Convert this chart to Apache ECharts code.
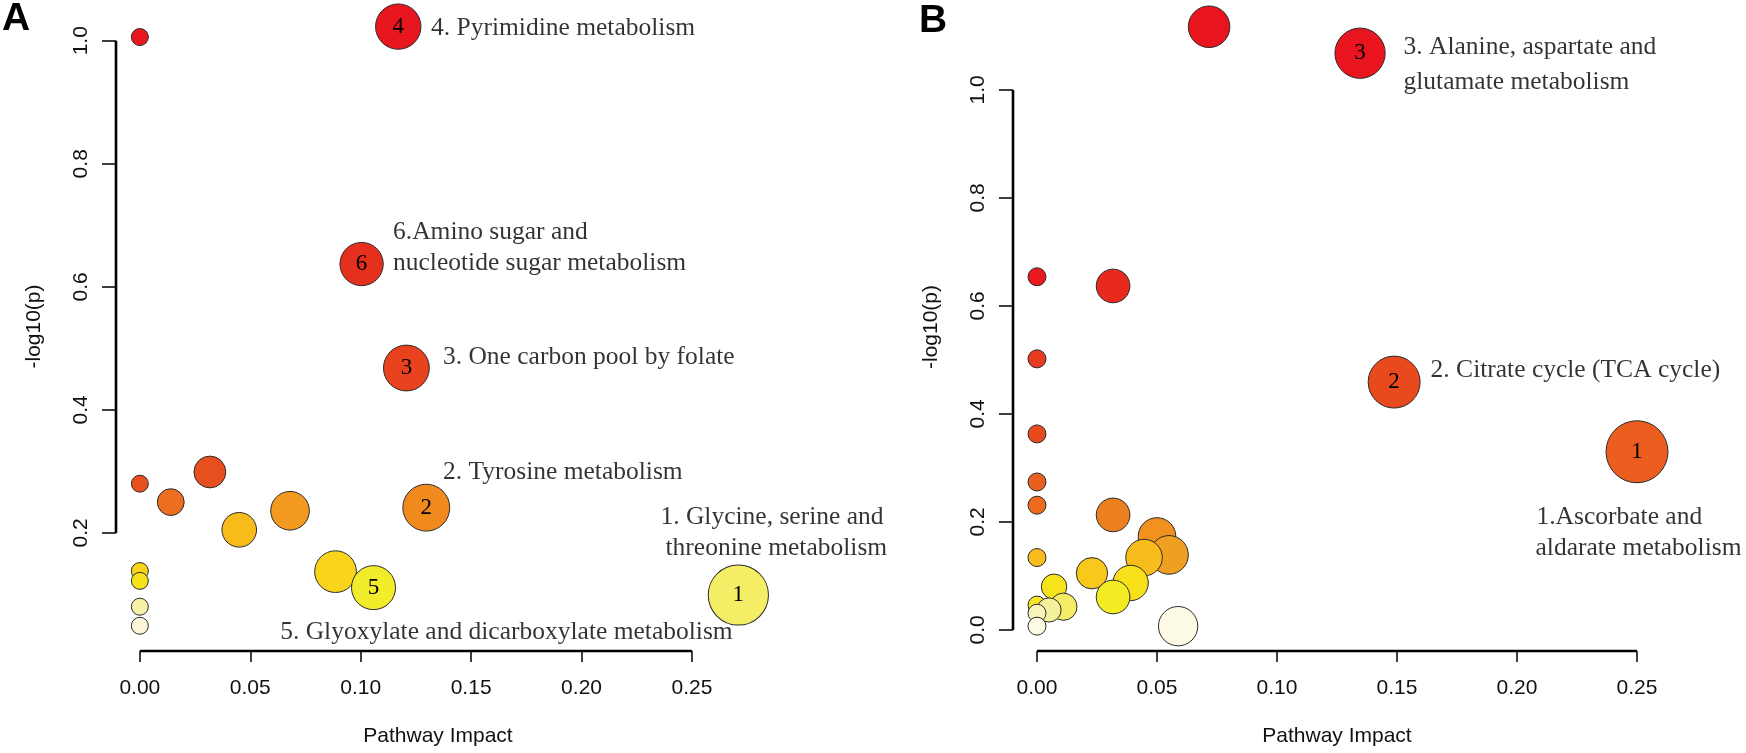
<!DOCTYPE html>
<html><head><meta charset="utf-8">
<script src="https://cdn.jsdelivr.net/npm/echarts@6/dist/echarts.min.js"></script>
<style>html,body{margin:0;padding:0;background:#fff}#c{width:1746px;height:753px}</style>
</head><body><div id="c"></div>
<script>
// ---------- Panel A data (Pathway Impact, -log10(p), tag) ----------
const aImpact = [0.117, 0, 0.1004, 0.1207, 0.0317, 0, 0.014, 0.1297, 0.068, 0.045, 0, 0.0886, 0, 0.1058, 0.271, 0, 0];
const aLogP   = [1.023, 1.006, 0.637, 0.468, 0.299, 0.280, 0.250, 0.241, 0.236, 0.205, 0.138, 0.137, 0.122, 0.111, 0.099, 0.080, 0.049];
const aTag    = ['4', '', '6', '3', '', '', '', '2', '', '', '', '', '', '5', '1', '', ''];
const aNotes  = ['4. Pyrimidine metabolism', '6.Amino sugar and', 'nucleotide sugar metabolism',
                 '3. One carbon pool by folate', '2. Tyrosine metabolism', '1. Glycine, serine and',
                 'threonine metabolism', '5. Glyoxylate and dicarboxylate metabolism'];

// ---------- Panel B data ----------
const bImpact = [0.0717, 0.1346, 0, 0.0317, 0, 0.1488, 0, 0.25, 0, 0, 0.0317, 0.05, 0.055, 0, 0.0446, 0.0229, 0.039, 0.0071, 0.0317, 0, 0.011, 0.005, 0, 0, 0.0588];
const bLogP   = [1.117, 1.068, 0.654, 0.637, 0.502, 0.459, 0.363, 0.330, 0.274, 0.231, 0.213, 0.173, 0.139, 0.134, 0.134, 0.105, 0.087, 0.080, 0.061, 0.046, 0.043, 0.037, 0.031, 0.007, 0.007];
const bTag    = ['', '3', '', '', '', '2', '', '1', '', '', '', '', '', '', '', '', '', '', '', '', '', '', '', '', ''];
const bNotes  = ['3. Alanine, aspartate and', 'glutamate metabolism', '2. Citrate cycle (TCA cycle)',
                 '1.Ascorbate and', 'aldarate metabolism'];

// ---------- Tick labels ----------
const xTicks  = [0, 0.05, 0.10, 0.15, 0.20, 0.25];
const yTicksA = [0.2, 0.4, 0.6, 0.8, 1.0];
const yTicksB = [0.0, 0.2, 0.4, 0.6, 0.8, 1.0];

// ---------- Layout / style (not data) ----------
const notePosA = [[0.1316, 1.0195], [0.1144, 0.688], [0.1144, 0.639], [0.137, 0.486], [0.137, 0.299],
                  [0.2355, 0.226], [0.2378, 0.1756], [0.0633, 0.039]];
const notePosB = [[0.1525, 1.0796], [0.1525, 1.0148], [0.1638, 0.4815], [0.2079, 0.2093], [0.2075, 0.1519]];

const colourScaleA = [[0.049,'#fbf6da'],[0.080,'#f6f0a8'],[0.099,'#f3ee66'],[0.111,'#f2ec2a'],[0.122,'#f6e21a'],
  [0.138,'#f8d41a'],[0.205,'#f8bc1a'],[0.236,'#f39a20'],[0.241,'#f08a1e'],[0.25,'#ec6e1e'],[0.28,'#e8501e'],
  [0.47,'#e8421e'],[0.64,'#e6301e'],[1.0,'#e8171f'],[1.2,'#e8171f']];
const colourScaleB = [[0.007,'#fdfbe6'],[0.031,'#f8f3b8'],[0.037,'#f5f09c'],[0.043,'#f4ec64'],[0.046,'#f6e62a'],
  [0.061,'#f4ec22'],[0.087,'#f8e01a'],[0.105,'#f8c81a'],[0.134,'#f8bc1c'],[0.139,'#f0a020'],[0.173,'#f29020'],
  [0.213,'#ec801e'],[0.231,'#ee6a1e'],[0.274,'#e8601e'],[0.33,'#ec5e20'],[0.363,'#e84a1e'],[0.459,'#e84a1e'],
  [0.502,'#e83a1e'],[0.637,'#e82a1e'],[0.654,'#e8181e'],[1.2,'#e8141e']];

function hexToRgb(h){return [parseInt(h.slice(1,3),16),parseInt(h.slice(3,5),16),parseInt(h.slice(5,7),16)];}
function colourAt(scale, v){
  if (v <= scale[0][0]) return scale[0][1];
  for (let i = 1; i < scale.length; i++) {
    if (v <= scale[i][0]) {
      const [v0,c0] = scale[i-1], [v1,c1] = scale[i];
      const t = (v - v0) / (v1 - v0 || 1);
      const a = hexToRgb(c0), b = hexToRgb(c1);
      return 'rgb(' + a.map((x,k)=>Math.round(x + (b[k]-x)*t)).join(',') + ')';
    }
  }
  return scale[scale.length-1][1];
}

const sansFont = 'Liberation Sans';
const serifFont = 'Liberation Serif';
const textCol = '#111';

const panels = [
  {box: {left: 116, top: 2, width: 644, height: 649}, xr: [-0.0108, 0.2808], yr: [0.008, 1.063], yTicks: yTicksA},
  {box: {left: 1013, top: 3, width: 648, height: 648}, xr: [-0.01, 0.26], yr: [-0.039, 1.161], yTicks: yTicksB}
];

const grids = [], xAxes = [], yAxes = [];
panels.forEach((p, i) => {
  grids.push(Object.assign({}, p.box));
  xAxes.push({type: 'value', gridIndex: i, min: p.xr[0], max: p.xr[1],
    axisLine: {show: false, onZero: false}, splitLine: {show: false},
    axisTick: {show: true, customValues: xTicks, length: 11, lineStyle: {color: '#000', width: 1.5}},
    axisLabel: {customValues: xTicks, formatter: v => v.toFixed(2), margin: 27,
                fontFamily: sansFont, fontSize: 21, color: textCol},
    name: 'Pathway Impact', nameLocation: 'middle', nameGap: 75,
    nameTextStyle: {fontFamily: sansFont, fontSize: 21, color: textCol}});
  yAxes.push({type: 'value', gridIndex: i, min: p.yr[0], max: p.yr[1],
    axisLine: {show: false, onZero: false}, splitLine: {show: false},
    axisTick: {show: true, customValues: p.yTicks, length: 14, lineStyle: {color: '#000', width: 1.5}},
    axisLabel: {customValues: p.yTicks, formatter: v => v.toFixed(1), rotate: 90, margin: 24,
                fontFamily: sansFont, fontSize: 21, color: textCol},
    name: '-log10(p)', nameLocation: 'middle', nameGap: 71,
    nameTextStyle: {fontFamily: sansFont, fontSize: 21, color: textCol}});
});

function seriesFor(i, impact, logp, tag, sizeBase, sizeK, scale, notes, notePos) {
  const p = panels[i];
  const pts = impact.map((v, k) => [v, logp[k], tag[k]]);
  const lineW = 2.6;
  return [
    {type: 'line', xAxisIndex: i, yAxisIndex: i, clip: false, symbol: 'none', z: 5,
     data: [[xTicks[0], p.yr[0]], [xTicks[xTicks.length-1], p.yr[0]]], lineStyle: {color: '#000', width: lineW}},
    {type: 'line', xAxisIndex: i, yAxisIndex: i, clip: false, symbol: 'none', z: 5,
     data: [[p.xr[0], p.yTicks[0]], [p.xr[0], p.yTicks[p.yTicks.length-1]]], lineStyle: {color: '#000', width: lineW}},
    {type: 'scatter', xAxisIndex: i, yAxisIndex: i, clip: false, data: pts,
     symbolSize: v => sizeBase + sizeK * Math.sqrt(v[0]),
     itemStyle: {color: q => colourAt(scale, q.value[1]), borderColor: '#2a2a2a', borderWidth: 1, opacity: 1},
     label: {show: true, position: 'inside', formatter: q => q.value[2],
             fontFamily: serifFont, fontSize: 23, color: '#000'}},
    {type: 'scatter', xAxisIndex: i, yAxisIndex: i, clip: false, silent: true,
     data: notes.map((t, k) => [notePos[k][0], notePos[k][1], t]),
     symbolSize: 1, itemStyle: {color: 'rgba(0,0,0,0)'},
     label: {show: true, position: 'right', distance: 0, formatter: q => q.value[2],
             fontFamily: serifFont, fontSize: 25.5, color: '#000'}}
  ];
}

const option = {
  animation: false,
  title: [
    {text: 'A', left: 2, top: 0, padding: 0, textStyle: {fontFamily: sansFont, fontWeight: 'bold', fontSize: 39, color: '#000'}},
    {text: 'B', left: 919, top: 2, padding: 0, textStyle: {fontFamily: sansFont, fontWeight: 'bold', fontSize: 39, color: '#000'}}
  ],
  grid: grids,
  xAxis: xAxes,
  yAxis: yAxes,
  series: [
    ...seriesFor(0, aImpact, aLogP, aTag, 17, 83, colourScaleA, aNotes, notePosA),
    ...seriesFor(1, bImpact, bLogP, bTag, 18, 88, colourScaleB, bNotes, notePosB)
  ]
};
const chart = echarts.init(document.getElementById('c'), null, {renderer: 'canvas'});
chart.setOption(option);
</script></body></html>
